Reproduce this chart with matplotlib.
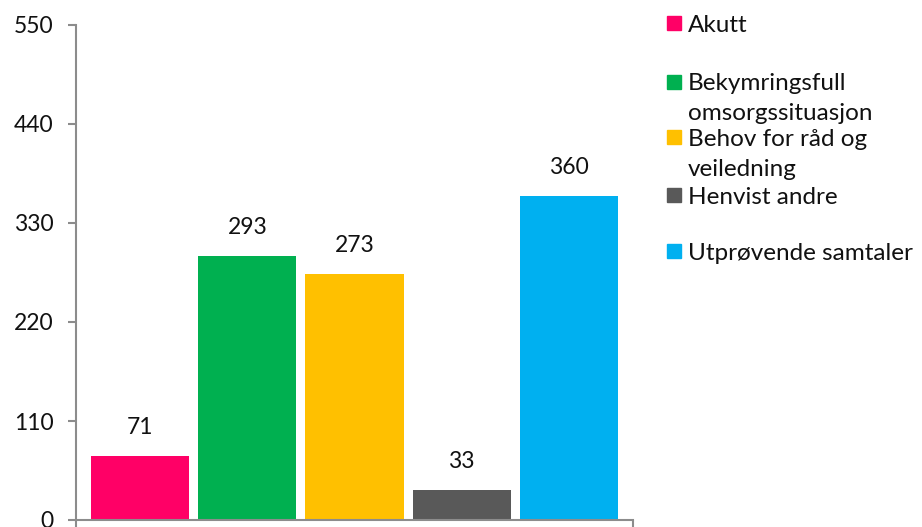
import matplotlib.pyplot as plt
from matplotlib.patches import Rectangle

categories = ['Akutt', 'Bekymringsfull\nomsorgssituasjon', 'Behov for råd og\nveiledning',
              'Henvist andre', 'Utprøvende samtaler']
values = [71, 293, 273, 33, 360]
colors = ['#FF0066', '#00B050', '#FFC000', '#595959', '#00B0F0']
yticks = [0, 110, 220, 330, 440, 550]

plt.rcParams['font.family'] = ['Lato', 'DejaVu Sans']
txt_color = '#111111'

fig = plt.figure(figsize=(9.22, 5.27), dpi=100)
# axes area in pixels: x 76..633, y 25..520
ax = fig.add_axes([76 / 922, 1 - 520 / 527, (633 - 76) / 922, (520 - 25) / 527])

x = list(range(len(values)))
w = 98 / 107
bars = ax.bar(x, values, width=w, color=colors)
for xi, v in zip(x, values):
    ax.annotate(str(v), (xi, v), xytext=(0, 13), textcoords='offset points',
                ha='center', va='bottom', fontsize=16.5, color=txt_color)

ax.set_xlim(-w / 2 - 15 / 107, len(values) - 1 + w / 2 + 15 / 107)
ax.set_ylim(0, 550)
ax.set_yticks(yticks)
ax.set_yticklabels([str(t) for t in yticks], fontsize=16.5)
ax.set_xticks([ax.get_xlim()[0], ax.get_xlim()[1]])
ax.set_xticklabels(['', ''])
for side in ['top', 'right']:
    ax.spines[side].set_visible(False)
for side in ['left', 'bottom']:
    ax.spines[side].set_color('#8c8c8c')
    ax.spines[side].set_linewidth(1.5)
ax.tick_params(axis='both', colors='#8c8c8c', width=1.5, length=6, direction='out')
ax.tick_params(axis='y', labelcolor=txt_color, pad=10)

# legend drawn by hand to follow the original spacing
leg_y = [23, 82, 137, 195, 251]
line_gap = 30
for label, c, yy in zip(categories, colors, leg_y):
    fig.patches.append(Rectangle((667 / 922, 1 - (yy + 7) / 527), 14 / 922, 14 / 527,
                                 transform=fig.transFigure, color=c))
    for i, line in enumerate(label.split('\n')):
        fig.text(688 / 922, 1 - (yy + i * line_gap) / 527, line, fontsize=17.5,
                 va='center_baseline', ha='left', color=txt_color)

fig.savefig('out.png', dpi=100)
